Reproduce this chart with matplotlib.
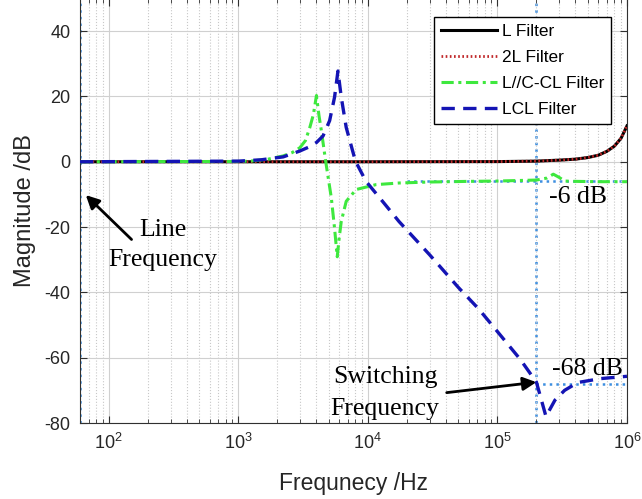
import matplotlib
matplotlib.use("Agg")
import matplotlib.pyplot as plt
from matplotlib.ticker import LogLocator, NullFormatter, MultipleLocator

# values (frequency in Hz, magnitude in dB)
l_freq = [60, 1e3, 1e4, 1e5, 2e5, 3e5, 4e5, 5e5, 6e5, 7e5, 8e5, 9e5, 1e6]
l_db = [0, 0, 0, 0.05, 0.2, 0.5, 0.8, 1.3, 2.0, 3.2, 4.8, 7.2, 11]

l2_freq = l_freq
l2_db = l_db

ccl_freq = [60, 1000, 1236, 1700, 2223, 2600, 2985, 3300, 3564, 3800, 4011, 4200,
            4378, 4722, 5222, 5534, 5803, 6000, 6232, 6808, 8117, 11550, 17400,
            3e4, 6e4, 1e5, 2e5, 2.4e5, 2.7e5, 3e5, 3.3e5, 4e5, 6e5, 1e6]
ccl_db = [0, 0.1, 0.2, 0.8, 1.8, 2.8, 4.3, 6.5, 10.5, 14.5, 20.3, 14,
          9.5, 0.2, -11, -20.4, -29.1, -23.5, -18.3, -12.1, -8.5, -7, -6.5,
          -6.2, -6, -5.9, -5.6, -5, -3.8, -4.8, -5.9, -6, -6.1, -6.1]

lcl_freq = [60, 1000, 1500, 2223, 2985, 3500, 4011, 4508, 5070, 5534, 5877, 6232,
            6808, 8017, 9680, 12970, 17400, 3e4, 5e4, 7.14e4, 1e5, 1.5e5, 2e5,
            2.37e5, 2.78e5, 3.3e5, 4.17e5, 6.27e5, 1e6]
lcl_db = [0, 0.2, 0.6, 1.5, 3.3, 4.5, 5.9, 7.9, 12.6, 19.8, 27.8, 19.8,
          10.5, 0.2, -6, -12.1, -18.3, -28.5, -38.5, -45, -52, -60.5, -67.5,
          -78, -73, -70, -67.6, -66.4, -65.7]

line_freq = 60
switch_freq = 2e5
ref_6db = -6
ref_68db = -68

plt.rcParams['font.family'] = ['Liberation Sans', 'DejaVu Sans']
plt.rcParams['mathtext.fontset'] = 'custom'
plt.rcParams['mathtext.rm'] = 'Liberation Sans'
plt.rcParams['axes.unicode_minus'] = False
serif = ['Liberation Serif', 'DejaVu Serif']

fig = plt.figure(figsize=(6.42, 4.99), dpi=100)
ax = fig.add_axes([0.1246, 0.1523, 0.852, 0.8507])

ref_blue = '#3d8fe0'
ax.axvline(line_freq, color=ref_blue, ls=':', lw=1.8, zorder=1)
ax.axvline(switch_freq, color=ref_blue, ls=':', lw=1.8, zorder=1)
ax.plot([switch_freq, 1e6], [ref_68db, ref_68db], color=ref_blue, ls=':', lw=1.8, zorder=1)
ax.plot([2e4, 1e6], [ref_6db, ref_6db], color=ref_blue, ls=':', lw=1.8, zorder=1)

ax.plot(l_freq, l_db, color='black', lw=2.2, label='L Filter', zorder=3)
ax.plot(l2_freq, l2_db, color='#c0282a', lw=2.0, ls=(0, (0.6, 0.9)), label='2L Filter', zorder=4)
ax.plot(ccl_freq, ccl_db, color='#3ee83e', lw=2.2, ls=(0, (4, 1.5, 1, 1.5)),
        label='L//C-CL Filter', zorder=5)
ax.plot(lcl_freq, lcl_db, color='#1414b4', lw=2.4, ls=(0, (4, 2.5)), label='LCL Filter', zorder=6)

ax.set_xscale('log')
ax.set_xlim(line_freq, 1e6)
ax.set_ylim(-80, 50)
ax.yaxis.set_major_locator(MultipleLocator(20))
ax.xaxis.set_major_locator(LogLocator(base=10, numticks=10))
ax.xaxis.set_minor_locator(LogLocator(base=10, subs=range(2, 10), numticks=20))
ax.xaxis.set_minor_formatter(NullFormatter())

ax.grid(True, which='major', color='#d0d0d0', lw=0.8, zorder=0)
ax.grid(True, which='minor', axis='x', color='#c8c8c8', ls=':', lw=0.8, zorder=0)
ax.tick_params(which='both', direction='in', top=True, right=True, colors='#303030',
               labelcolor='#262626', labelsize=13)
ax.tick_params(which='major', length=5, pad=7)
ax.tick_params(which='minor', length=3)
for sp in ax.spines.values():
    sp.set_color('#303030')

ax.set_xlabel('Frequnecy /Hz', fontsize=16.5, color='#262626', labelpad=14)
ax.set_ylabel('Magnitude /dB', fontsize=17, color='#262626', labelpad=6)

leg = ax.legend(loc='upper right', bbox_to_anchor=(0.971, 0.957), borderaxespad=0,
                fontsize=12.5, handlelength=3.2, handletextpad=0.3, labelspacing=0.62,
                fancybox=False, framealpha=1, edgecolor='black', borderpad=0.4)
leg.get_frame().set_linewidth(1.0)

arrow = dict(arrowstyle='-|>', color='black', lw=2, mutation_scale=20, shrinkA=0, shrinkB=0)
ax.annotate('', xy=(66.5, -10.2), xytext=(150, -23.8), arrowprops=arrow, zorder=7)
ax.text(260, -25.5, 'Line\nFrequency', family=serif, fontsize=18.5, ha='center', va='center',
        linespacing=1.5, zorder=7)
ax.annotate('', xy=(2e5, -67.5), xytext=(40600, -70.7), arrowprops=arrow, zorder=7)
ax.text(13600, -70.8, 'Switching\nFrequency', family=serif, fontsize=18.5, ha='center', va='center',
        linespacing=1.55, zorder=7)
ax.text(4.18e5, -10.8, '-6 dB', family=serif, fontsize=18.5, ha='center', va='center', zorder=7)
ax.text(4.98e5, -63.6, '-68 dB', family=serif, fontsize=18.5, ha='center', va='center', zorder=7)

fig.savefig('out.png', dpi=100)
